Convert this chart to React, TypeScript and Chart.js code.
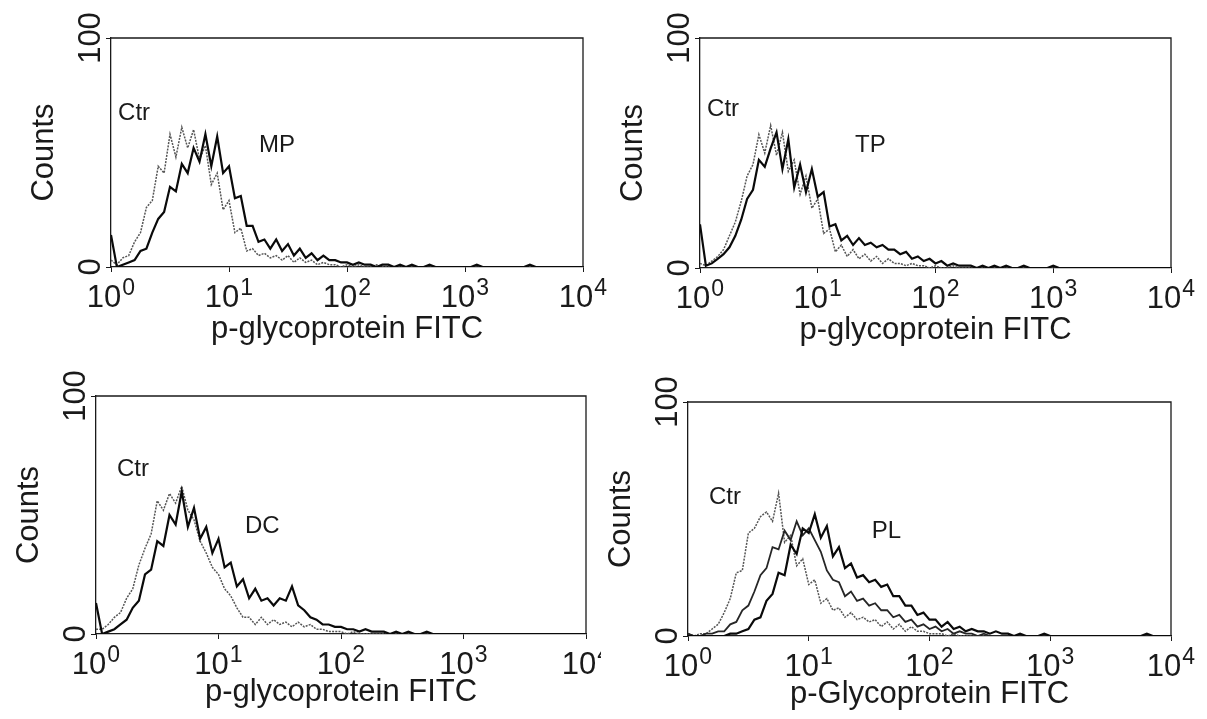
import React, { useEffect, useRef } from "react";
import { Chart, registerables } from "chart.js";

Chart.register(...registerables);

// ---- channel axis (log-amplified bins, 20 per decade, 10^0 .. 10^4) ----
const BINS_PER_DECADE = 20;
const DECADES = 4;
const channels = Array.from({ length: BINS_PER_DECADE * DECADES + 1 }, (_, i) => Math.pow(10, i / BINS_PER_DECADE));

const decadeTicks = [1, 10, 100, 1000, 10000];
const decadeExponents = ["0", "1", "2", "3", "4"];
const countTicks = [0, 100];
const countTickLabels = ["0", "100"];

// ---- series values (counts per bin) ----
const mpControl = [
  3, 1, 4, 5, 11, 15, 26, 29, 44, 41,
  58, 48, 61, 52, 60, 47, 53, 36, 41, 25,
  29, 15, 17, 7, 8, 5, 6, 4, 5, 3,
  5, 2, 4, 2, 3, 1, 2, 1, 1, 0,
  1, 0, 1, 0, 0, 1, 0, 0, 0, 0,
  0, 0, 0, 0, 0, 0, 0, 0, 0, 0,
  0, 0, 0, 0, 0, 0, 0, 0, 0, 0,
  0, 0, 0, 0, 0, 0, 0, 0, 0, 0, 0,
];
const mpTreated = [
  14, 0, 1, 2, 3, 7, 8, 15, 21, 24,
  35, 33, 45, 41, 52, 46, 58, 44, 57, 41,
  44, 30, 31, 18, 18, 11, 12, 8, 12, 7,
  10, 5, 8, 4, 6, 3, 5, 3, 3, 2,
  2, 1, 2, 1, 1, 0, 1, 1, 0, 1,
  0, 1, 0, 0, 1, 0, 0, 0, 0, 0,
  0, 0, 1, 0, 0, 0, 0, 0, 0, 0,
  0, 1, 0, 0, 0, 0, 0, 0, 0, 0, 0,
];

const tpControl = [
  2, 1, 3, 5, 8, 14, 20, 29, 40, 45,
  58, 50, 62, 49, 59, 42, 47, 32, 40, 26,
  30, 15, 17, 7, 10, 5, 8, 4, 6, 3,
  5, 2, 4, 2, 2, 1, 2, 1, 1, 0,
  1, 0, 0, 1, 0, 0, 0, 0, 0, 0,
  0, 0, 0, 0, 0, 0, 0, 0, 0, 0,
  0, 0, 0, 0, 0, 0, 0, 0, 0, 0,
  0, 0, 0, 0, 0, 0, 0, 0, 0, 0, 0,
];
const tpTreated = [
  19, 1, 2, 4, 6, 9, 14, 21, 30, 34,
  47, 44, 52, 59, 43, 56, 35, 45, 33, 43,
  31, 33, 18, 19, 12, 14, 10, 13, 10, 11,
  9, 10, 8, 8, 6, 7, 4, 5, 3, 4,
  2, 3, 1, 2, 1, 1, 1, 0, 1, 0,
  1, 0, 1, 0, 0, 1, 0, 0, 0, 0,
  1, 0, 0, 0, 0, 0, 0, 0, 0, 0,
  0, 0, 0, 0, 0, 0, 0, 0, 0, 0, 0,
];

const dcControl = [
  2, 2, 4, 7, 9, 15, 19, 29, 36, 42,
  56, 52, 59, 55, 62, 52, 48, 39, 34, 28,
  25, 19, 16, 11, 7, 7, 4, 7, 4, 6,
  4, 5, 3, 5, 3, 4, 2, 2, 1, 1,
  1, 0, 1, 0, 0, 0, 0, 0, 0, 0,
  0, 0, 0, 0, 0, 0, 0, 0, 0, 0,
  0, 0, 0, 0, 0, 0, 0, 0, 0, 0,
  0, 0, 0, 0, 0, 0, 0, 0, 0, 0, 0,
];
const dcTreated = [
  13, 0, 1, 2, 4, 6, 11, 14, 25, 27,
  39, 37, 50, 46, 60, 45, 53, 40, 45, 34,
  40, 28, 30, 20, 23, 15, 19, 14, 15, 12,
  15, 14, 20, 12, 10, 7, 6, 4, 4, 3,
  3, 2, 2, 1, 2, 1, 1, 1, 0, 1,
  0, 1, 0, 0, 1, 0, 0, 0, 0, 0,
  0, 0, 0, 0, 0, 0, 0, 0, 0, 0,
  0, 0, 0, 0, 0, 0, 0, 0, 0, 0, 0,
];

const plControl = [
  1, 0, 1, 1, 3, 5, 10, 16, 27, 28,
  44, 46, 51, 53, 49, 61, 40, 43, 30, 33,
  22, 24, 14, 16, 11, 12, 8, 10, 7, 8,
  6, 7, 4, 6, 3, 5, 2, 4, 2, 2,
  1, 1, 1, 0, 1, 0, 0, 0, 0, 0,
  0, 0, 0, 0, 0, 0, 0, 0, 0, 0,
  0, 0, 0, 0, 0, 0, 0, 0, 0, 0,
  0, 0, 0, 0, 0, 0, 0, 0, 0, 0, 0,
];
const plSecond = [
  1, 0, 0, 1, 1, 2, 2, 5, 6, 11,
  13, 19, 26, 29, 38, 37, 45, 41, 49, 43,
  46, 41, 36, 28, 24, 23, 17, 19, 15, 16,
  13, 14, 11, 11, 8, 9, 6, 7, 4, 5,
  3, 4, 2, 3, 1, 2, 1, 1, 0, 1,
  0, 0, 0, 0, 0, 0, 0, 0, 0, 0,
  0, 0, 0, 0, 0, 0, 0, 0, 0, 0,
  0, 0, 0, 0, 0, 0, 0, 0, 0, 0, 0,
];
const plTreated = [
  0, 0, 0, 0, 0, 0, 0, 1, 1, 2,
  3, 7, 8, 15, 18, 27, 26, 39, 35, 46,
  44, 52, 42, 47, 34, 38, 29, 31, 25, 26,
  23, 24, 21, 22, 17, 17, 13, 13, 9, 10,
  7, 7, 4, 6, 3, 4, 2, 3, 2, 2,
  1, 2, 1, 1, 0, 1, 0, 0, 0, 1,
  0, 0, 0, 0, 0, 0, 0, 0, 0, 0,
  0, 0, 0, 0, 0, 0, 1, 0, 0, 0, 0,
];

// ---- styling ----
const INK = "#1a1a1a";
const FONT = "'Liberation Sans', Arial, Helvetica, sans-serif";
const CAP = 0.716;

const ctrStyle = { color: "#555555", width: 1.5, dash: [2, 1.2] };
const treatStyle = { color: "#0a0a0a", width: 2.2, dash: [] as number[] };
const secondStyle = { color: "#262626", width: 1.8, dash: [] as number[] };

type Series = { values: number[]; style: { color: string; width: number; dash: number[] } };
type Note = { text: string; x: number; y: number };
type PanelDef = {
  left: number; top: number; w: number; h: number;
  pad: { left: number; top: number; right: number; bottom: number };
  xTitle: string; titleGap: number;
  series: Series[];
  notes: Note[];
};

const panels: PanelDef[] = [
  {
    left: 0, top: 0, w: 612, h: 360,
    pad: { left: 111, top: 38, right: 29, bottom: 93 },
    xTitle: "p-glycoprotein FITC", titleGap: 71,
    series: [{ values: mpTreated, style: treatStyle }, { values: mpControl, style: ctrStyle }],
    notes: [{ text: "Ctr", x: 1.57, y: 68 }, { text: "MP", x: 25.5, y: 54 }],
  },
  {
    left: 600, top: 0, w: 607, h: 360,
    pad: { left: 100, top: 38, right: 36, bottom: 92 },
    xTitle: "p-glycoprotein FITC", titleGap: 71,
    series: [{ values: tpTreated, style: treatStyle }, { values: tpControl, style: ctrStyle }],
    notes: [{ text: "Ctr", x: 1.57, y: 70 }, { text: "TP", x: 28, y: 54 }],
  },
  {
    left: 0, top: 360, w: 601, h: 359,
    pad: { left: 96, top: 36, right: 15, bottom: 85 },
    xTitle: "p-glycoprotein FITC", titleGap: 67,
    series: [{ values: dcTreated, style: treatStyle }, { values: dcControl, style: ctrStyle }],
    notes: [{ text: "Ctr", x: 2.0, y: 70 }, { text: "DC", x: 22.8, y: 46 }],
  },
  {
    left: 600, top: 360, w: 607, h: 359,
    pad: { left: 88, top: 42, right: 36, bottom: 83 },
    xTitle: "p-Glycoprotein FITC", titleGap: 67,
    series: [
      { values: plTreated, style: treatStyle },
      { values: plSecond, style: secondStyle },
      { values: plControl, style: ctrStyle },
    ],
    notes: [{ text: "Ctr", x: 2.02, y: 60 }, { text: "PL", x: 44, y: 45.5 }],
  },
];

function drawRotated(ctx: CanvasRenderingContext2D, text: string, cx: number, cy: number, size: number) {
  ctx.save();
  ctx.translate(cx, cy);
  ctx.rotate(-Math.PI / 2);
  ctx.font = `${size}px ${FONT}`;
  ctx.textAlign = "center";
  ctx.textBaseline = "alphabetic";
  ctx.fillText(text, 0, (size * CAP) / 2);
  ctx.restore();
}

function panelTextPlugin(p: PanelDef) {
  return {
    id: "panelText",
    afterDraw(chart: any) {
      const { ctx, chartArea: a, scales } = chart;
      const xs = scales.x;
      const ys = scales.y;
      ctx.save();
      // top and right sides of the frame
      ctx.strokeStyle = INK;
      ctx.lineWidth = 1.3;
      ctx.beginPath();
      ctx.moveTo(a.left, a.top);
      ctx.lineTo(a.right, a.top);
      ctx.lineTo(a.right, a.bottom);
      ctx.stroke();

      ctx.fillStyle = INK;
      const BASE = 31;
      const SUP = 23;
      // x tick labels 10^n
      decadeTicks.forEach((v, k) => {
        const px = xs.getPixelForValue(v);
        ctx.font = `${BASE}px ${FONT}`;
        const w1 = ctx.measureText("10").width;
        ctx.font = `${SUP}px ${FONT}`;
        const w2 = ctx.measureText(decadeExponents[k]).width;
        const x0 = px - (w1 + 1 + w2) / 2;
        ctx.textAlign = "left";
        ctx.textBaseline = "alphabetic";
        ctx.font = `${BASE}px ${FONT}`;
        ctx.fillText("10", x0, a.bottom + 40);
        ctx.font = `${SUP}px ${FONT}`;
        ctx.fillText(decadeExponents[k], x0 + w1 + 1, a.bottom + 28);
      });
      // y tick labels, rotated
      countTicks.forEach((v, k) => {
        const py = ys.getPixelForValue(v);
        drawRotated(ctx, countTickLabels[k], a.left - 22, py, 31);
      });
      // y title
      drawRotated(ctx, "Counts", a.left - 69, (a.top + a.bottom) / 2, 31);
      // x title
      ctx.font = `31px ${FONT}`;
      ctx.textAlign = "center";
      ctx.textBaseline = "alphabetic";
      ctx.fillText(p.xTitle, (a.left + a.right) / 2, a.bottom + p.titleGap);
      // curve labels
      ctx.font = `24px ${FONT}`;
      p.notes.forEach((n) => {
        const x = xs.getPixelForValue(n.x);
        const y = ys.getPixelForValue(n.y);
        ctx.fillText(n.text, x, y + (24 * CAP) / 2);
      });
      ctx.restore();
    },
  };
}

function Panel({ p }: { p: PanelDef }) {
  const ref = useRef<HTMLCanvasElement>(null);
  useEffect(() => {
    if (!ref.current) return;
    const axisCommon = {
      ticks: { display: false },
      grid: { display: true, drawOnChartArea: false, drawTicks: true, tickLength: 5, color: INK, lineWidth: 1 },
      border: { display: true, color: INK, width: 1.3 },
    };
    const chart = new Chart(ref.current, {
      type: "line",
      data: {
        datasets: p.series.map((s) => ({
          data: channels.map((c, i) => ({ x: c, y: s.values[i] })),
          borderColor: s.style.color,
          borderWidth: s.style.width,
          borderDash: s.style.dash,
          pointRadius: 0,
          tension: 0,
          fill: false,
        })),
      },
      options: {
        responsive: false,
        animation: false,
        events: [],
        layout: { padding: p.pad, autoPadding: false },
        plugins: { legend: { display: false }, tooltip: { enabled: false } },
        scales: {
          x: {
            type: "logarithmic",
            position: "bottom",
            min: 1,
            max: 10000,
            afterBuildTicks: (s: any) => {
              s.ticks = decadeTicks.map((v) => ({ value: v }));
            },
            afterFit: (s: any) => {
              s.height = 0;
            },
            ...axisCommon,
          },
          y: {
            type: "linear",
            position: "left",
            min: 0,
            max: 100,
            afterBuildTicks: (s: any) => {
              s.ticks = countTicks.map((v) => ({ value: v }));
            },
            afterFit: (s: any) => {
              s.width = 0;
            },
            ...axisCommon,
          },
        },
      } as any,
      plugins: [panelTextPlugin(p)],
    });
    return () => chart.destroy();
  }, [p]);
  return (
    <canvas
      ref={ref}
      width={p.w}
      height={p.h}
      style={{ position: "absolute", left: p.left, top: p.top, width: p.w, height: p.h }}
    />
  );
}

export default function App() {
  return (
    <div
      style={{
        position: "fixed",
        left: 0,
        top: 0,
        width: 1207,
        height: 719,
        background: "#ffffff",
        overflow: "hidden",
      }}
    >
      {panels.map((p, i) => (
        <Panel key={i} p={p} />
      ))}
    </div>
  );
}
